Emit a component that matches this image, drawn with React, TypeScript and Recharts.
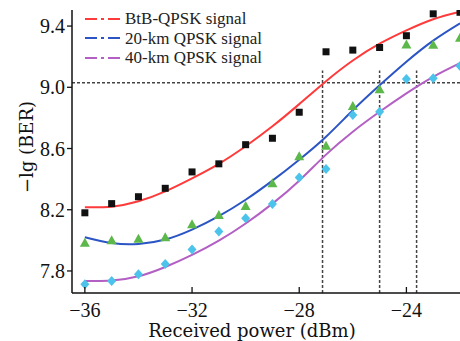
import React from 'react';
import {
  ComposedChart,
  Line,
  XAxis,
  YAxis,
  ReferenceLine,
} from 'recharts';

const power = [-36, -35, -34, -33, -32, -31, -30, -29, -28, -27, -26, -25, -24, -23, -22];

// measured points
const btbMeas = [8.18, 8.24, 8.285, 8.34, 8.447, 8.5, 8.625, 8.667, 8.837, 9.232, 9.243, 9.26, 9.337, 9.48, 9.49];
const km20Meas = [7.985, 8.0, 8.01, 8.02, 8.105, 8.166, 8.225, 8.373, 8.55, 8.618, 8.877, 8.987, 9.28, 9.278, 9.324];
const km40Meas = [7.713, 7.735, 7.778, 7.846, 7.94, 8.057, 8.144, 8.238, 8.41, 8.466, 8.819, 8.84, 9.054, 9.059, 9.139];

// fitted curves
const btbFit = [8.216, 8.22, 8.255, 8.32, 8.405, 8.5, 8.615, 8.745, 8.89, 9.04, 9.175, 9.285, 9.372, 9.445, 9.494];
const km20Fit = [8.02, 7.982, 7.976, 8.005, 8.07, 8.158, 8.265, 8.39, 8.527, 8.677, 8.85, 9.013, 9.167, 9.305, 9.418];
const km40Fit = [7.735, 7.737, 7.765, 7.826, 7.905, 7.998, 8.11, 8.24, 8.39, 8.56, 8.71, 8.84, 8.96, 9.068, 9.157];

const xTicks = [-36, -32, -28, -24];
const yTicks = [7.8, 8.2, 8.6, 9.0, 9.4];

const threshold = 9.03;
const crossings = [-27.13, -25.0, -23.62];
const crossTop = 9.11;

const series = [
  { name: 'BtB-QPSK signal', color: '#ff3a3a' },
  { name: '20-km QPSK signal', color: '#2b54c4' },
  { name: '40-km QPSK signal', color: '#b35fc4' },
];

const data = power.map((p, i) => ({
  p,
  btb: btbMeas[i],
  km20: km20Meas[i],
  km40: km40Meas[i],
  btbFit: btbFit[i],
  km20Fit: km20Fit[i],
  km40Fit: km40Fit[i],
}));

const Y_MIN = 7.656;
const Y_MAX = 9.505;

const serif = '"Liberation Serif", "DejaVu Serif", serif';
const wideSerif = '"DejaVu Serif", serif';
const minus = (v: number) => (v < 0 ? '\u2212' + Math.abs(v) : String(v));

const Square = (props: any) => {
  const { cx, cy, index } = props;
  if (cx == null || cy == null) return <g key={`s-${index}`} />;
  return <rect key={`s-${index}`} x={cx - 3.5} y={cy - 3.5} width={7} height={7} fill="#111" />;
};

const Triangle = (props: any) => {
  const { cx, cy, index } = props;
  if (cx == null || cy == null) return <g key={`t-${index}`} />;
  return (
    <polygon
      key={`t-${index}`}
      points={`${cx},${cy - 5} ${cx - 5},${cy + 4} ${cx + 5},${cy + 4}`}
      fill="#5cb84a"
    />
  );
};

const Diamond = (props: any) => {
  const { cx, cy, index } = props;
  if (cx == null || cy == null) return <g key={`d-${index}`} />;
  return (
    <polygon
      key={`d-${index}`}
      points={`${cx},${cy - 5} ${cx + 4.5},${cy} ${cx},${cy + 5} ${cx - 4.5},${cy}`}
      fill="#4cc3ea"
    />
  );
};

const XTick = (props: any) => {
  const { x, y, payload } = props;
  return (
    <g>
      <line x1={x} x2={x} y1={y - 6} y2={y} stroke="#111" strokeWidth={1.3} />
      <text x={x} y={y + 24} textAnchor="middle" fontFamily={serif} fontSize={20} fill="#111">
        {minus(payload.value)}
      </text>
    </g>
  );
};

const YTick = (props: any) => {
  const { x, y, payload } = props;
  return (
    <text x={x} y={y} dy={7} textAnchor="end" fontFamily={serif} fontSize={20} fill="#111">
      {Number(payload.value).toFixed(1)}
    </text>
  );
};

const LegendBox = () => (
  <div style={{ position: 'absolute', left: 85, top: 9, pointerEvents: 'none' }}>
    {series.map((s) => (
      <div key={s.name} style={{ display: 'flex', alignItems: 'center', height: 19.5 }}>
        <svg width={40} height={10}>
          <line x1={0} x2={35} y1={5} y2={5} stroke={s.color} strokeWidth={2} strokeDasharray="12 4 3 4" />
        </svg>
        <span style={{ fontFamily: serif, fontSize: 17, color: '#222', lineHeight: '19px', whiteSpace: 'nowrap' }}>
          {s.name}
        </span>
      </div>
    ))}
  </div>
);

const YLabel = () => {
  const cx = 26;
  const cy = 147;
  return (
    <text
      x={cx}
      y={cy}
      transform={`rotate(-90 ${cx} ${cy})`}
      textAnchor="middle"
      dominantBaseline="central"
      fontFamily={wideSerif}
      fontSize={18}
      fill="#111"
    >
      {'\u2212lg (BER)'}
    </text>
  );
};

const XLabel = () => (
  <text x={252} y={337} textAnchor="middle" fontFamily={wideSerif} fontSize={18} fill="#111">
    Received power (dBm)
  </text>
);

export default function App() {
  return (
    <div style={{ position: 'absolute', left: 0, top: 0, width: 460, height: 341, background: '#fff' }}>
      <ComposedChart width={460} height={341} data={data} margin={{ top: 10, right: 0, bottom: 0, left: 0 }}>
        <XAxis
          dataKey="p"
          type="number"
          domain={[-36.48, -22.0]}
          ticks={xTicks}
          allowDataOverflow
          height={48}
          tickLine={false}
          tickSize={0}
          tickMargin={0}
          axisLine={{ stroke: '#111', strokeWidth: 1.5 }}
          tick={<XTick />}
          label={<XLabel />}
        />
        <YAxis
          type="number"
          domain={[Y_MIN, Y_MAX]}
          ticks={yTicks}
          allowDataOverflow
          width={72}
          tickSize={5}
          tickMargin={2}
          tickLine={{ stroke: '#111', strokeWidth: 1.3 }}
          axisLine={{ stroke: '#111', strokeWidth: 1.5 }}
          tick={<YTick />}
          label={<YLabel />}
        />
        <ReferenceLine y={threshold} stroke="#444" strokeWidth={1.5} strokeDasharray="3 2" />
        {crossings.map((c) => (
          <ReferenceLine
            key={c}
            segment={[{ x: c, y: Y_MIN }, { x: c, y: crossTop }]}
            stroke="#444"
            strokeWidth={1.5}
            strokeDasharray="3 2"
          />
        ))}
        <Line type="natural" dataKey="btbFit" stroke={series[0].color} strokeWidth={2} dot={false} isAnimationActive={false} />
        <Line type="natural" dataKey="km20Fit" stroke={series[1].color} strokeWidth={2} dot={false} isAnimationActive={false} />
        <Line type="natural" dataKey="km40Fit" stroke={series[2].color} strokeWidth={2} dot={false} isAnimationActive={false} />
        <Line dataKey="btb" stroke="none" dot={<Square />} activeDot={false} isAnimationActive={false} />
        <Line dataKey="km20" stroke="none" dot={<Triangle />} activeDot={false} isAnimationActive={false} />
        <Line dataKey="km40" stroke="none" dot={<Diamond />} activeDot={false} isAnimationActive={false} />
      </ComposedChart>
      <LegendBox />
    </div>
  );
}
